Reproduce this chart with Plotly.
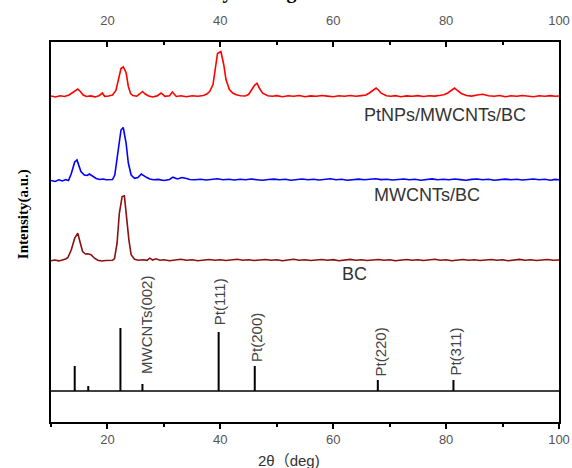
import plotly.graph_objects as go

# ---------------- data ----------------
pt_x = [10,10.8,11.6,12.4,13.2,13.8,14.3,14.75,15.2,15.7,16.3,17,17.8,18.5,19.1,19.5,20.2,20.9,21.5,21.9,22.4,22.8,23.3,23.7,24.1,24.5,25.2,25.7,26.2,26.7,27.3,28,28.8,29.5,30.2,31,31.5,32.2,33,34,35,36,37,37.6,38.1,38.7,39.1,39.5,40.1,40.6,41,41.6,42.2,42.8,43.6,44.4,45,45.5,46.1,46.5,46.9,47.5,48.4,49.2,50,51,52,53,54,55,56,57,58,59,60,61,62,63,64,65,65.8,66.4,67,67.6,68,68.5,69.4,70.2,71,72,73,74,75,76,77,78,79,79.6,80.3,81,81.5,82,82.7,83.6,84.5,85.5,86.5,87.5,88.5,89.5,90.5,91.5,92.5,93.5,94.5,95.5,96.5,97.5,98.5,99.3,100]
pt_y = [0.5,-0.5,0.8,0,1.5,4,6,7.5,5,1.5,0,0.6,-0.4,0.8,3.5,0.2,0.5,1.5,6,17,28,29.5,24,10,3,1,0.3,2.5,5,2.5,0.5,-0.5,0.6,3.5,0.2,0.8,4.5,0,0.7,-0.3,0.8,0.2,1,2.5,5,12,30,43,45,32,17,7,3.5,1.7,0.8,0.5,2,6.5,11.5,13.3,8.5,3.3,0.8,0.2,0.9,-0.2,0.7,0.3,1,-0.3,0.6,0.2,1,0.4,-0.2,0.8,0.3,1,0.2,0.9,1.5,3.5,6,8.5,6.5,3.3,0.8,0.2,0.9,-0.3,0.6,0.3,0.9,0,0.7,0.4,1.2,1.8,3.5,6.5,8.5,6,3,1,0.4,1.5,2.3,0.8,0.3,1,-0.2,0.7,0.2,1,0.4,-0.3,0.8,0.3,0.9,0.2,0.5]

mw_x = [10,10.7,11.4,12,12.6,13.1,13.6,14.2,14.6,14.9,15.3,15.9,16.4,16.8,17.4,18,18.6,19.2,19.8,20.5,20.9,21.3,21.8,22.4,22.8,23.3,23.7,24.2,24.8,25.4,26,26.5,26.9,27.5,28.2,29,30,31,31.6,32.4,33.2,34,34.6,35.5,36.5,37.5,38.5,39.5,40.5,41.5,42.5,43.5,44.5,45.5,46.5,47.5,48.5,49.5,50.5,51.5,52.5,53.5,54.5,55.5,56.5,57.5,58.5,59.5,60.5,61.5,62.5,63.5,64.5,65.5,66.5,67.5,68.5,69.5,70.5,71.5,72.5,73.5,74.5,75.5,76.5,77.5,78.5,79.5,80.5,81.5,82.5,83.5,84.5,85.5,86.5,87.5,88.5,89.5,90.5,91.5,92.5,93.5,94.5,95.5,96.5,97.5,98.5,99.3,100]
mw_y = [-0.5,-1.5,0.2,-1,0.5,-0.5,6.5,18,20,15,8.5,5,4.5,6,3.3,1.5,0.5,1,0.2,0.8,0.5,5,27,50,52.5,37,17,5,1.7,2.5,6,4,2.7,1,0.3,0.6,-0.5,0.5,2.8,1,2.5,1.5,0.5,0.2,0.7,0,0.6,1.2,0.3,0.8,0,0.7,0.2,1,0.3,-0.3,0.5,0.9,0.2,0.8,-0.2,0.6,1,0.3,0.8,0,0.6,1.2,0.2,0.7,-0.3,0.5,0.9,0.2,0.7,1.3,0.4,0.8,0,0.6,1,0.2,0.7,-0.2,0.6,1.1,0.3,0.8,0.2,1,0.4,-0.3,0.6,1,0.2,0.7,-0.2,0.5,0.9,0.2,0.7,0,0.6,1,0.3,0.7,-0.2,0.6,0.3]

bc_x = [10,10.7,11.4,12,12.6,13,13.6,14.2,14.75,15.2,15.6,16.1,16.5,17.1,17.7,18.3,19,19.7,20.4,20.9,21.25,21.7,22.1,22.6,23.0,23.3,23.8,24.2,24.8,25.5,26.3,27,27.5,28,28.6,29.3,30,31,32,33,34,35,36,37,38,39,40,41,42,43,44,45,46,47,48,49,50,51,52,53,54,55,56,57,58,59,60,61,62,63,64,65,66,67,68,69,70,71,72,73,74,75,76,77,78,79,80,81,82,83,84,85,86,87,88,89,90,91,92,93,94,95,96,97,98,99,100]
bc_y = [-0.3,0.5,-0.4,0.3,1.5,3,10.7,22.3,27.3,17.3,9,6.5,6.7,5.7,2.3,0.3,-0.5,0,-0.3,0.2,2,17,47,64,64.7,47,20.7,5.7,1.3,0.3,0.8,0.2,2.3,0.5,1.7,0.2,0.7,-0.2,0.6,1.2,0.2,0.8,-0.3,0.5,1,0.2,0.7,0,0.6,1.2,0.3,0.8,0,0.5,1,0.2,0.7,-0.2,0.6,1.3,0.3,0.8,0,0.6,1,0.3,0.9,-0.2,0.5,1.1,0.2,0.8,0,0.6,1,0.2,0.8,-0.3,0.5,1,0.3,0.8,0,0.6,1.2,0.2,0.7,-0.2,0.6,1,0.3,0.8,0,0.5,1,0.2,0.7,-0.2,0.6,1.1,0.3,0.8,0,0.6,1,0.3,0.5]

ref_pos = [14.2, 16.6, 22.3, 26.2, 39.7, 46.1, 67.9, 81.3]
ref_int = [25, 5, 63, 7, 59, 25, 11, 11]

ref_labels = ["MWCNTs(002)", "Pt(111)", "Pt(200)", "Pt(220)", "Pt(311)"]
ref_label_x = [26.9, 39.9, 46.4, 68.2, 81.5]

series_names = ["PtNPs/MWCNTs/BC", "MWCNTs/BC", "BC"]

# ---------------- layout constants ----------------
OFF_PT, OFF_MW, OFF_BC, OFF_REF = 325.5, 242, 161.5, 31
YMAX = 380

fig = go.Figure()

for xs, ys, off, col in [(pt_x, pt_y, OFF_PT, "#ff0000"),
                         (mw_x, mw_y, OFF_MW, "#0000ff"),
                         (bc_x, bc_y, OFF_BC, "#8b1010")]:
    fig.add_trace(go.Scatter(x=xs, y=[v + off for v in ys], mode="lines",
                             line=dict(color=col, width=1.6), showlegend=False,
                             hoverinfo="skip"))

sx, sy = [], []
for p, h in zip(ref_pos, ref_int):
    sx += [p, p, None]
    sy += [OFF_REF, OFF_REF + h, None]
fig.add_trace(go.Scatter(x=sx, y=sy, mode="lines", line=dict(color="black", width=2),
                         showlegend=False, hoverinfo="skip"))

# dummy trace to activate top axis
fig.add_trace(go.Scatter(x=[10, 100], y=[None, None], xaxis="x2", mode="lines",
                         showlegend=False, hoverinfo="skip"))

fig.add_shape(type="line", xref="paper", yref="y", x0=0, x1=1, y0=OFF_REF, y1=OFF_REF,
              line=dict(color="black", width=1.5))

tickfont = dict(family="Liberation Sans, Arial", size=13, color="#555555")
fig.update_layout(
    width=572, height=468,
    margin=dict(l=51, r=13, t=42, b=46, autoexpand=False),
    plot_bgcolor="white", paper_bgcolor="white",
    xaxis=dict(range=[10, 100], tick0=0, dtick=20, ticks="outside", ticklen=5,
               tickwidth=1.5, tickcolor="black", showline=True, linecolor="black",
               linewidth=1.5, showgrid=False, zeroline=False, tickfont=tickfont,
               automargin=False,
               minor=dict(dtick=10, tick0=0, ticks="outside", ticklen=3,
                          tickcolor="black", tickwidth=1.5)),
    xaxis2=dict(range=[10, 100], overlaying="x", side="top", tick0=0, dtick=20,
                ticks="inside", ticklen=5, tickwidth=1.5, tickcolor="black",
                showline=True, linecolor="black", linewidth=1.5, showgrid=False,
                zeroline=False, tickfont=tickfont, ticklabelstandoff=10,
                automargin=False,
                minor=dict(dtick=10, tick0=0, ticks="inside", ticklen=3,
                           tickcolor="black", tickwidth=1.5)),
    yaxis=dict(range=[0, YMAX], showline=True, mirror=True, linecolor="black",
               linewidth=1.5, showticklabels=False, ticks="", showgrid=False,
               zeroline=False, automargin=False),
)

label_font = dict(family="Liberation Sans, Arial", size=18, color="#333333")
for name, xv, yv in zip(series_names, [79.8, 76.6, 63.7], [307, 227, 148.5]):
    fig.add_annotation(x=xv, y=yv, text=name, showarrow=False, font=label_font,
                       xanchor="center", yanchor="middle")

for lab, xv, yv in zip(ref_labels, ref_label_x, [97.5, 120.5, 84.5, 70, 70]):
    fig.add_annotation(x=xv, y=yv, text=lab, showarrow=False, textangle=-90,
                       font=dict(family="Liberation Sans, Arial", size=15, color="#444444"),
                       xanchor="center", yanchor="middle")

fig.add_annotation(xref="paper", yref="paper", x=-0.055, y=0.547, text="<b>Intensity(a.u.)</b>",
                   textangle=-90, showarrow=False,
                   font=dict(family="Liberation Serif, Times New Roman", size=15, color="black"),
                   xanchor="center", yanchor="middle")
fig.add_annotation(xref="paper", yref="paper", x=0.468, y=-0.1, text="2θ（deg)",
                   showarrow=False,
                   font=dict(family="Liberation Sans, Noto Sans CJK SC", size=15, color="#333333"),
                   xanchor="center", yanchor="middle")
fig.add_annotation(xref="paper", yref="paper", x=0.36, y=1.097, text="<b>Intensity vs. angle</b>",
                   showarrow=False,
                   font=dict(family="Liberation Serif, Times New Roman", size=20, color="black"),
                   xanchor="center", yanchor="bottom")

fig.write_html("out.html")
